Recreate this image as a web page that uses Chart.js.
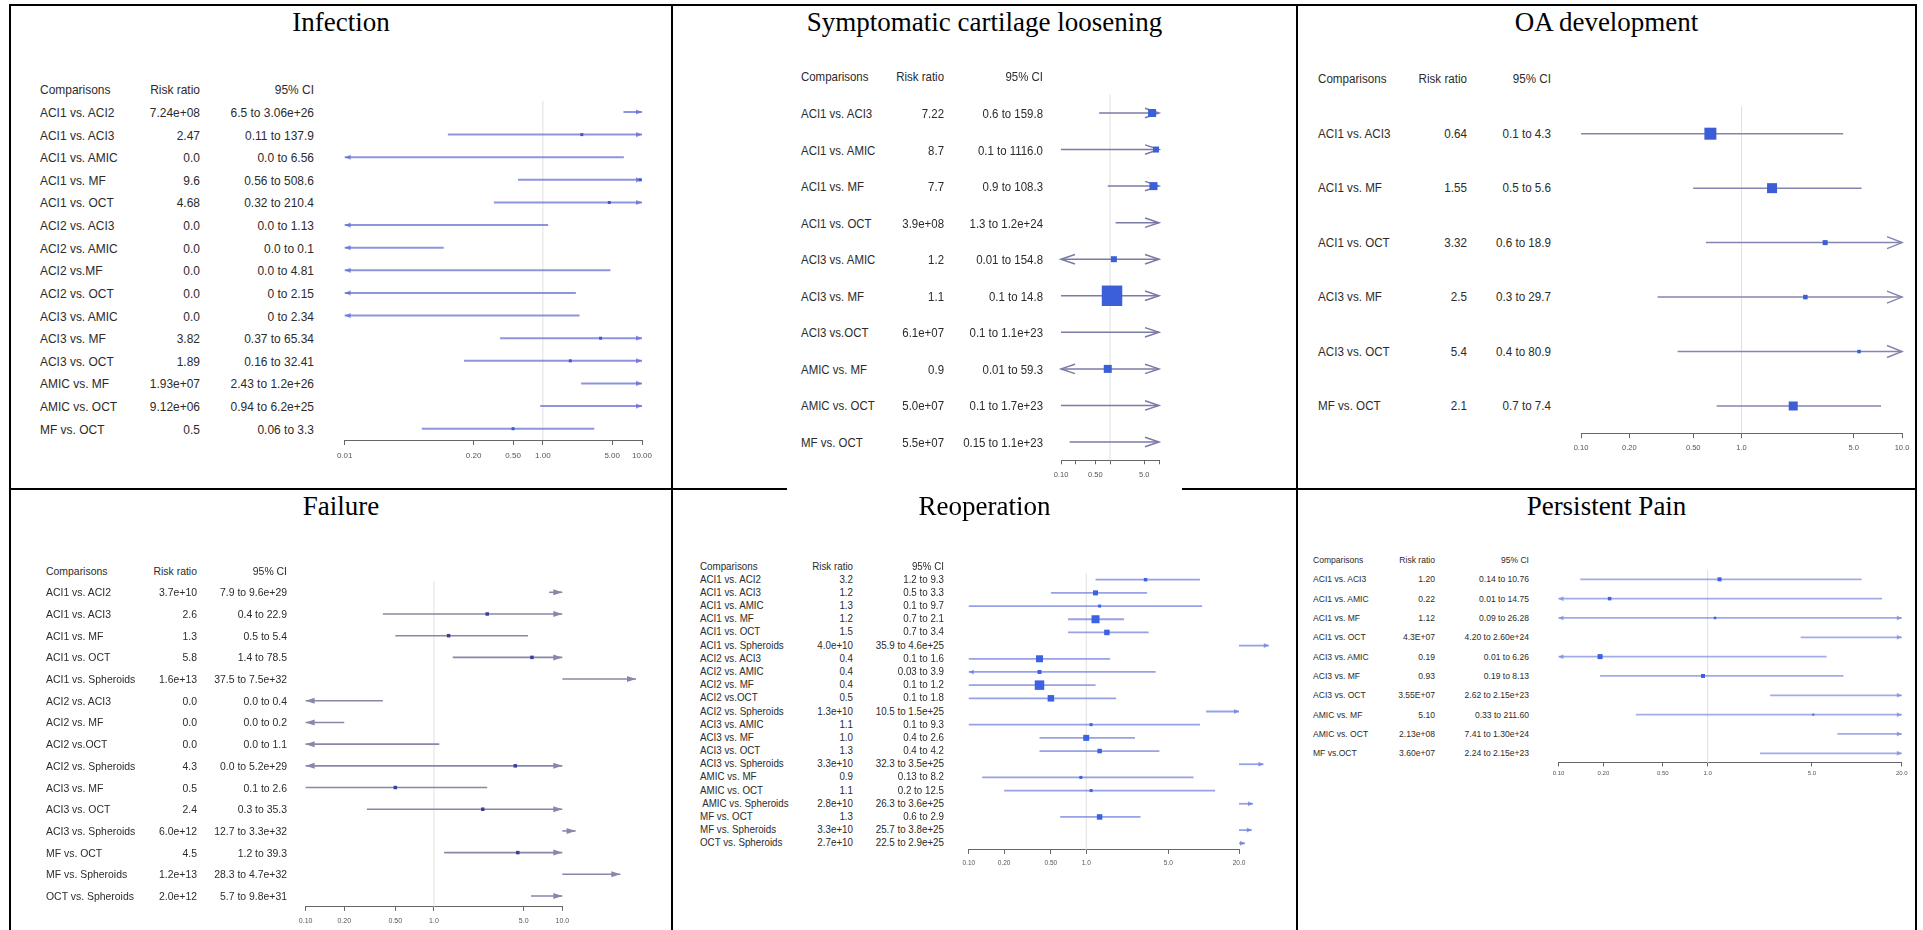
<!DOCTYPE html>
<html>
<head>
<meta charset="utf-8">
<script src="https://cdn.jsdelivr.net/npm/chart.js@4.4.0/dist/chart.umd.min.js"></script>
<style>
  body { margin: 0; width: 1923px; height: 930px; overflow: hidden; position: relative; background: #fff; }
  .rule { position: absolute; background: #000; }
  .title { position: absolute; font-family: "Liberation Serif", "Times New Roman", serif; font-size: 27px;
           line-height: 27px; color: #000; white-space: nowrap; transform: translateX(-50%); }
  .cell { position: absolute; white-space: pre; line-height: 1; color: #2b2b2b;
          font-family: "Liberation Sans", Arial, sans-serif; }
  canvas { position: absolute; }
</style>
</head>
<body>
<script>
// ---- Infection ----
const INF_ROWS = ['ACI1 vs. ACI2', 'ACI1 vs. ACI3', 'ACI1 vs. AMIC', 'ACI1 vs. MF', 'ACI1 vs. OCT', 'ACI2 vs. ACI3',
  'ACI2 vs. AMIC', 'ACI2 vs.MF', 'ACI2 vs. OCT', 'ACI3 vs. AMIC', 'ACI3 vs. MF', 'ACI3 vs. OCT', 'AMIC vs. MF',
  'AMIC vs. OCT', 'MF vs. OCT'];
const INF_RR = ['7.24e+08', '2.47', '0.0', '9.6', '4.68', '0.0', '0.0', '0.0', '0.0', '0.0', '3.82', '1.89', '1.93e+07', '9.12e+06', '0.5'];
const INF_LO = ['6.5', '0.11', '0.0', '0.56', '0.32', '0.0', '0.0', '0.0', '0', '0', '0.37', '0.16', '2.43', '0.94', '0.06'];
const INF_HI = ['3.06e+26', '137.9', '6.56', '508.6', '210.4', '1.13', '0.1', '4.81', '2.15', '2.34', '65.34', '32.41', '1.2e+26', '6.2e+25', '3.3'];
const INF_TICKS = [0.01, 0.2, 0.5, 1, 5, 10];
const INF_TICK_LABELS = ['0.01', '0.20', '0.50', '1.00', '5.00', '10.00'];

// ---- Symptomatic cartilage loosening ----
const SCL_ROWS = ['ACI1 vs. ACI3', 'ACI1 vs. AMIC', 'ACI1 vs. MF', 'ACI1 vs. OCT', 'ACI3 vs. AMIC', 'ACI3 vs. MF',
  'ACI3 vs.OCT', 'AMIC vs. MF', 'AMIC vs. OCT', 'MF vs. OCT'];
const SCL_RR = ['7.22', '8.7', '7.7', '3.9e+08', '1.2', '1.1', '6.1e+07', '0.9', '5.0e+07', '5.5e+07'];
const SCL_LO = ['0.6', '0.1', '0.9', '1.3', '0.01', '0.1', '0.1', '0.01', '0.1', '0.15'];
const SCL_HI = ['159.8', '1116.0', '108.3', '1.2e+24', '154.8', '14.8', '1.1e+23', '59.3', '1.7e+23', '1.1e+23'];
const SCL_TICKS = [0.1, 0.2, 0.5, 1, 5, 10];
const SCL_TICK_LABELS = ['0.10', '', '0.50', '', '5.0', ''];

// ---- OA development ----
const OA_ROWS = ['ACI1 vs. ACI3', 'ACI1 vs. MF', 'ACI1 vs. OCT', 'ACI3 vs. MF', 'ACI3 vs. OCT', 'MF vs. OCT'];
const OA_RR = ['0.64', '1.55', '3.32', '2.5', '5.4', '2.1'];
const OA_LO = ['0.1', '0.5', '0.6', '0.3', '0.4', '0.7'];
const OA_HI = ['4.3', '5.6', '18.9', '29.7', '80.9', '7.4'];
const OA_TICKS = [0.1, 0.2, 0.5, 1, 5, 10];
const OA_TICK_LABELS = ['0.10', '0.20', '0.50', '1.0', '5.0', '10.0'];

// ---- Failure ----
const FAIL_ROWS = ['ACI1 vs. ACI2', 'ACI1 vs. ACI3', 'ACI1 vs. MF', 'ACI1 vs. OCT', 'ACI1 vs. Spheroids', 'ACI2 vs. ACI3',
  'ACI2 vs. MF', 'ACI2 vs.OCT', 'ACI2 vs. Spheroids', 'ACI3 vs. MF', 'ACI3 vs. OCT', 'ACI3 vs. Spheroids', 'MF vs. OCT',
  'MF vs. Spheroids', 'OCT vs. Spheroids'];
const FAIL_RR = ['3.7e+10', '2.6', '1.3', '5.8', '1.6e+13', '0.0', '0.0', '0.0', '4.3', '0.5', '2.4', '6.0e+12', '4.5', '1.2e+13', '2.0e+12'];
const FAIL_LO = ['7.9', '0.4', '0.5', '1.4', '37.5', '0.0', '0.0', '0.0', '0.0', '0.1', '0.3', '12.7', '1.2', '28.3', '5.7'];
const FAIL_HI = ['9.6e+29', '22.9', '5.4', '78.5', '7.5e+32', '0.4', '0.2', '1.1', '5.2e+29', '2.6', '35.3', '3.3e+32', '39.3', '4.7e+32', '9.8e+31'];
const FAIL_TICKS = [0.1, 0.2, 0.5, 1, 5, 10];
const FAIL_TICK_LABELS = ['0.10', '0.20', '0.50', '1.0', '5.0', '10.0'];

// ---- Reoperation ----
const REOP_ROWS = ['ACI1 vs. ACI2', 'ACI1 vs. ACI3', 'ACI1 vs. AMIC', 'ACI1 vs. MF', 'ACI1 vs. OCT', 'ACI1 vs. Spheroids',
  'ACI2 vs. ACI3', 'ACI2 vs. AMIC', 'ACI2 vs. MF', 'ACI2 vs.OCT', 'ACI2 vs. Spheroids', 'ACI3 vs. AMIC', 'ACI3 vs. MF',
  'ACI3 vs. OCT', 'ACI3 vs. Spheroids', 'AMIC vs. MF', 'AMIC vs. OCT', ' AMIC vs. Spheroids', 'MF vs. OCT',
  'MF vs. Spheroids', 'OCT vs. Spheroids'];
const REOP_RR = ['3.2', '1.2', '1.3', '1.2', '1.5', '4.0e+10', '0.4', '0.4', '0.4', '0.5', '1.3e+10', '1.1', '1.0', '1.3',
  '3.3e+10', '0.9', '1.1', '2.8e+10', '1.3', '3.3e+10', '2.7e+10'];
const REOP_LO = ['1.2', '0.5', '0.1', '0.7', '0.7', '35.9', '0.1', '0.03', '0.1', '0.1', '10.5', '0.1', '0.4', '0.4',
  '32.3', '0.13', '0.2', '26.3', '0.6', '25.7', '22.5'];
const REOP_HI = ['9.3', '3.3', '9.7', '2.1', '3.4', '4.6e+25', '1.6', '3.9', '1.2', '1.8', '1.5e+25', '9.3', '2.6', '4.2',
  '3.5e+25', '8.2', '12.5', '3.6e+25', '2.9', '3.8e+25', '2.9e+25'];
const REOP_TICKS = [0.1, 0.2, 0.5, 1, 5, 20];
const REOP_TICK_LABELS = ['0.10', '0.20', '0.50', '1.0', '5.0', '20.0'];

// ---- Persistent Pain ----
const PAIN_ROWS = ['ACI1 vs. ACI3', 'ACI1 vs. AMIC', 'ACI1 vs. MF', 'ACI1 vs. OCT', 'ACI3 vs. AMIC', 'ACI3 vs. MF',
  'ACI3 vs. OCT', 'AMIC vs. MF', 'AMIC vs. OCT', 'MF vs.OCT'];
const PAIN_RR = ['1.20', '0.22', '1.12', '4.3E+07', '0.19', '0.93', '3.55E+07', '5.10', '2.13e+08', '3.60e+07'];
const PAIN_LO = ['0.14', '0.01', '0.09', '4.20', '0.01', '0.19', '2.62', '0.33', '7.41', '2.24'];
const PAIN_HI = ['10.76', '14.75', '26.28', '2.60e+24', '6.26', '8.13', '2.15e+23', '211.60', '1.30e+24', '2.15e+23'];
const PAIN_TICKS = [0.1, 0.2, 0.5, 1, 5, 20];
const PAIN_TICK_LABELS = ['0.10', '0.20', '0.50', '1.0', '5.0', '20.0'];

// box side (px) of each point estimate, a style per row
const INF_BOX = [0, 3, 0, 3, 3, 0, 0, 0, 0, 0, 3, 3, 0, 0, 3];
const SCL_BOX = [8, 6, 8, 0, 6, 20.5, 0, 8, 0, 0];
const OA_BOX = [12, 10, 5, 4.5, 3.5, 9];
const FAIL_BOX = [0, 3.5, 3.5, 3.5, 0, 0, 0, 0, 3.5, 3.5, 3.5, 0, 3.5, 0, 0];
const REOP_BOX = [3.5, 5, 3, 8, 5.5, 0, 7, 4, 9.5, 6.5, 0, 3, 6, 4.5, 0, 3, 3, 0, 5.5, 0, 0];
const PAIN_BOX = [4, 3.5, 2.5, 0, 5, 4, 0, 2, 0, 0];

const PANELS = [
  { title: 'Infection', cx: 341, base: 32, rows: INF_ROWS, rr: INF_RR, lo: INF_LO, hi: INF_HI, box: INF_BOX,
    ticks: INF_TICKS, tickLabels: INF_TICK_LABELS,
    x0: 344.7, x1: 642, yFirst: 112, yLast: 428.7, cols: [40, 199.6, 313.7], font: 13, sx: 0.92,
    tickFont: 8, tickLen: 5, tickPad: 6, padR: 20,
    line: 'rgba(98,108,210,0.72)', lw: 2, mark: '#3d57d6', head: { len: 6, w: 2.6, fill: true } },
  { title: 'Symptomatic cartilage loosening', cx: 984.5, base: 32, rows: SCL_ROWS, rr: SCL_RR, lo: SCL_LO, hi: SCL_HI, box: SCL_BOX,
    ticks: SCL_TICKS, tickLabels: SCL_TICK_LABELS,
    x0: 1061, x1: 1159, yFirst: 113, yLast: 442, cols: [801, 944, 1043], font: 13, sx: 0.88,
    tickFont: 7.5, tickLen: 4, tickPad: 6, padR: 20,
    line: '#7a7aa6', lw: 1.5, mark: '#3b5fd8', head: { len: 14, w: 4.7, fill: false } },
  { title: 'OA development', cx: 1606.5, base: 32, rows: OA_ROWS, rr: OA_RR, lo: OA_LO, hi: OA_HI, box: OA_BOX,
    ticks: OA_TICKS, tickLabels: OA_TICK_LABELS,
    x0: 1581, x1: 1902, yFirst: 133.7, yLast: 406, cols: [1318, 1467, 1550.5], font: 12.5, sx: 0.93,
    tickFont: 7.5, tickLen: 5, tickPad: 5.5, padR: 15,
    line: '#8585b0', lw: 1.5, mark: '#3b5dd6', head: { len: 15, w: 6, fill: false } },
  { title: 'Failure', cx: 341, base: 515.5, rows: FAIL_ROWS, rr: FAIL_RR, lo: FAIL_LO, hi: FAIL_HI, box: FAIL_BOX,
    ticks: FAIL_TICKS, tickLabels: FAIL_TICK_LABELS,
    x0: 305.6, x1: 562.3, yFirst: 592.3, yLast: 896, cols: [46, 196.6, 286.7], font: 11.6, sx: 0.9,
    tickFont: 7, tickLen: 4, tickPad: 5.8, padR: 90,
    line: '#8787aa', lw: 1.6, mark: '#3a3f98', head: { len: 9, w: 3, fill: true } },
  { title: 'Reoperation', cx: 984.5, base: 515.5, rows: REOP_ROWS, rr: REOP_RR, lo: REOP_LO, hi: REOP_HI, box: REOP_BOX,
    ticks: REOP_TICKS, tickLabels: REOP_TICK_LABELS,
    x0: 968.8, x1: 1239, yFirst: 579.7, yLast: 843.3, cols: [700, 853, 944.4], font: 10.3, sx: 0.95,
    tickFont: 6.5, tickLen: 4, tickPad: 5, padR: 40,
    line: 'rgba(110,125,220,0.72)', lw: 1.8, mark: '#3a62e2', head: { len: 5, w: 2.5, fill: true } },
  { title: 'Persistent Pain', cx: 1606.5, base: 515.5, rows: PAIN_ROWS, rr: PAIN_RR, lo: PAIN_LO, hi: PAIN_HI, box: PAIN_BOX,
    ticks: PAIN_TICKS, tickLabels: PAIN_TICK_LABELS,
    x0: 1558.5, x1: 1901.8, yFirst: 579.3, yLast: 753.3, cols: [1313, 1435, 1528.5], font: 9.5, sx: 0.9,
    tickFont: 6, tickLen: 3.5, tickPad: 3.6, padR: 15,
    line: 'rgba(125,138,222,0.72)', lw: 1.8, mark: '#3c62e0', head: { len: 5, w: 2.5, fill: true } }
];

function addDiv(cls, text, css) {
  const d = document.createElement('div');
  d.className = cls;
  d.textContent = text;
  Object.assign(d.style, css);
  document.body.appendChild(d);
  return d;
}

// panel frame
[10, 672, 1297, 1916].forEach(x => addDiv('rule', '', { left: (x - 1) + 'px', top: '4px', width: '2px', height: '940px' }));
[5, 489].forEach(y => addDiv('rule', '', { left: '9px', top: (y - 1) + 'px', width: '1908px', height: '2px' }));
addDiv('rule', '', { left: '787px', top: '486px', width: '395px', height: '6px', background: '#fff' });

function drawHead(ctx, xTip, yv, dir, head) {
  ctx.beginPath();
  ctx.moveTo(xTip - dir * head.len, yv - head.w);
  ctx.lineTo(xTip, yv);
  ctx.lineTo(xTip - dir * head.len, yv + head.w);
  if (head.fill) { ctx.closePath(); ctx.fill(); } else { ctx.stroke(); }
}

function whiskerPlugin(p) {
  return {
    id: 'whiskers',
    beforeDatasetsDraw(chart) {
      const { ctx, chartArea, scales: { x, y } } = chart;
      const min = p.ticks[0], max = p.ticks[p.ticks.length - 1];
      ctx.save();
      // reference line at 1
      ctx.strokeStyle = '#e0e0e0';
      ctx.lineWidth = 1;
      ctx.beginPath();
      ctx.moveTo(x.getPixelForValue(1), chartArea.top);
      ctx.lineTo(x.getPixelForValue(1), chartArea.bottom);
      ctx.stroke();

      ctx.strokeStyle = p.line;
      ctx.fillStyle = p.line;
      ctx.lineWidth = p.lw;
      ctx.lineJoin = 'miter';
      p.lo.forEach((l, i) => {
        const lo = Number(l), hi = Number(p.hi[i]);
        const yv = y.getPixelForValue(i);
        let xa, xb, left = false, right = false;
        if (lo > max) {
          xa = x.getPixelForValue(max); xb = x.getPixelForValue(lo); right = true;
        } else {
          left = lo < min;
          right = hi > max;
          xa = x.getPixelForValue(Math.max(lo, min));
          xb = x.getPixelForValue(Math.min(hi, max));
        }
        ctx.beginPath();
        ctx.moveTo(xa, yv);
        ctx.lineTo(xb, yv);
        ctx.stroke();
        if (left) drawHead(ctx, xa, yv, -1, p.head);
        if (right) drawHead(ctx, xb, yv, 1, p.head);
      });
      ctx.restore();
    }
  };
}

PANELS.forEach(p => {
  addDiv('title', p.title, { left: p.cx + 'px', top: (p.base - 22.6) + 'px' });

  const n = p.rows.length;
  const sp = (p.yLast - p.yFirst) / (n - 1);
  const areaTop = p.yFirst - sp / 2, areaBottom = p.yLast + sp / 2;
  const padT = 12, padB = 4, padL = 20;
  const axisH = p.tickLen + p.tickFont * 1.2 + 2 * p.tickPad;
  const left = Math.floor(p.x0 - padL), top = Math.floor(areaTop - padT);
  const pl = p.x0 - left, pt = areaTop - top;
  const width = Math.ceil(pl + (p.x1 - p.x0) + p.padR);
  const height = Math.ceil(pt + (areaBottom - areaTop) + axisH + padB);
  const pr = width - pl - (p.x1 - p.x0);
  const pb = height - pt - (areaBottom - areaTop) - axisH;

  const canvas = document.createElement('canvas');
  canvas.width = width; canvas.height = height;
  canvas.style.left = left + 'px'; canvas.style.top = top + 'px';
  canvas.style.width = width + 'px'; canvas.style.height = height + 'px';
  document.body.appendChild(canvas);

  const min = p.ticks[0], max = p.ticks[p.ticks.length - 1];
  const pts = [], radii = [];
  p.rr.forEach((r, i) => {
    const v = Number(r);
    if (v > 0 && v >= min && v <= max && p.box[i] > 0) {
      pts.push({ x: v, y: i });
      radii.push(p.box[i] / Math.SQRT2);
    }
  });

  const chart = new Chart(canvas.getContext('2d'), {
    type: 'scatter',
    data: {
      datasets: [{
        data: pts,
        pointStyle: 'rect',
        pointRadius: radii,
        backgroundColor: p.mark,
        borderWidth: 0,
        clip: false
      }]
    },
    options: {
      responsive: false,
      animation: false,
      devicePixelRatio: 1,
      events: [],
      layout: { autoPadding: false, padding: { left: pl, right: pr, top: pt, bottom: pb } },
      plugins: { legend: { display: false }, tooltip: { enabled: false } },
      scales: {
        x: {
          type: 'logarithmic',
          min: min,
          max: max,
          afterBuildTicks: s => { s.ticks = p.ticks.map(v => ({ value: v })); },
          ticks: {
            autoSkip: false, maxRotation: 0, minRotation: 0, padding: p.tickPad, color: '#555',
            font: { family: 'Liberation Sans', size: p.tickFont },
            callback: (v, i) => p.tickLabels[i]
          },
          grid: { drawOnChartArea: false, drawTicks: true, tickLength: p.tickLen, color: '#666', lineWidth: 1 },
          border: { display: true, color: '#666', width: 1 }
        },
        y: { type: 'linear', min: -0.5, max: n - 0.5, reverse: true, display: false }
      }
    },
    plugins: [whiskerPlugin(p)]
  });

  // table text placed on the chart's own row positions
  const yS = chart.scales.y;
  const cellCss = (x, yy, align) => ({
    left: x + 'px', top: yy + 'px', fontSize: p.font + 'px',
    transform: align === 'left' ? `translateY(-50%) scaleX(${p.sx})` : `translate(-100%, -50%) scaleX(${p.sx})`,
    transformOrigin: align === 'left' ? 'left center' : 'right center'
  });
  const headY = top + yS.getPixelForValue(-1);
  addDiv('cell', 'Comparisons', cellCss(p.cols[0], headY, 'left'));
  addDiv('cell', 'Risk ratio', cellCss(p.cols[1], headY, 'right'));
  addDiv('cell', '95% CI', cellCss(p.cols[2], headY, 'right'));
  p.rows.forEach((name, i) => {
    const yy = top + yS.getPixelForValue(i);
    addDiv('cell', name, cellCss(p.cols[0], yy, 'left'));
    addDiv('cell', p.rr[i], cellCss(p.cols[1], yy, 'right'));
    addDiv('cell', p.lo[i] + ' to ' + p.hi[i], cellCss(p.cols[2], yy, 'right'));
  });
});
</script>
</body>
</html>
